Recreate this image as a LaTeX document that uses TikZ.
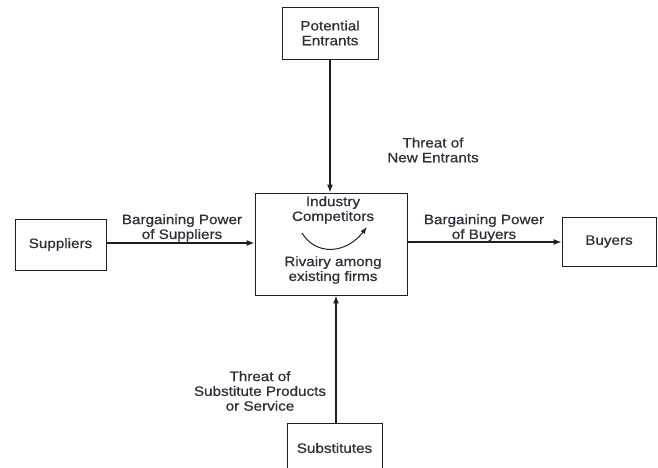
\documentclass[tikz,border=0pt]{standalone}
\usepackage{fontspec}
\setmainfont{Liberation Sans}[FakeStretch=1.12, FakeBold=0.6]
\usetikzlibrary{arrows.meta}
\definecolor{ink}{HTML}{2E2E38}
\definecolor{edge}{HTML}{1E1E24}
\begin{document}
\begin{tikzpicture}[x=1pt,y=-1pt,
  every node/.style={font=\fontsize{13.6}{14.8}\selectfont, text=ink},
  force/.style={draw=edge, line width=0.8pt, inner sep=0pt, align=center},
  label/.style={align=center, inner sep=0pt},
  flow/.style={draw=edge, line width=1.4pt, -{Latex[length=8pt,width=6pt]}}]
  \useasboundingbox (0,0) rectangle (658,468);

  % the five forces
  \node[force, minimum width=96pt, minimum height=52pt] (pe) at (330,33) {Potential\\Entrants};
  \node[force, minimum width=152pt, minimum height=102pt] (ic) at (331,244) {};
  \node[force, minimum width=91pt, minimum height=51pt] (su) at (60.5,244.5) {Suppliers};
  \node[force, minimum width=94pt, minimum height=49pt] (bu) at (609,241.5) {Buyers};
  \node[force, minimum width=95pt, minimum height=50pt] (sb) at (334.5,448) {Substitutes};

  % texts inside the rivalry box
  \node[label] (ind) at (333,210) {Industry\\Competitors};
  \node[label] (riv) at (333,270) {Rivairy among\\existing firms};
  \coordinate (ca) at (302,233);
  \coordinate (cb) at (367,227);
  \draw[draw=edge, line width=1pt, -{Latex[length=7pt,width=5pt]}]
    (ca) .. controls (316,256) and (346,254) .. (cb);

  % connectors
  \draw[flow] (pe.south) -- (pe.south |- ic.north);
  \draw[flow] (su.east |- 0,243) -- (ic.west |- 0,243);
  \draw[flow] (ic.east |- 0,242) -- (bu.west |- 0,242);
  \draw[flow] (sb.north -| 336,0) -- (ic.south -| 336,0);

  % connector labels
  \node[label] (tne) at (433,150) {Threat of\\New Entrants};
  \node[label] (bps) at (182,228) {Bargaining Power\\of Suppliers};
  \node[label] (bpb) at (484,228) {Bargaining Power\\of Buyers};
  \node[label] (tsp) at (260,391) {Threat of\\Substitute Products\\or Service};
\end{tikzpicture}
\end{document}
